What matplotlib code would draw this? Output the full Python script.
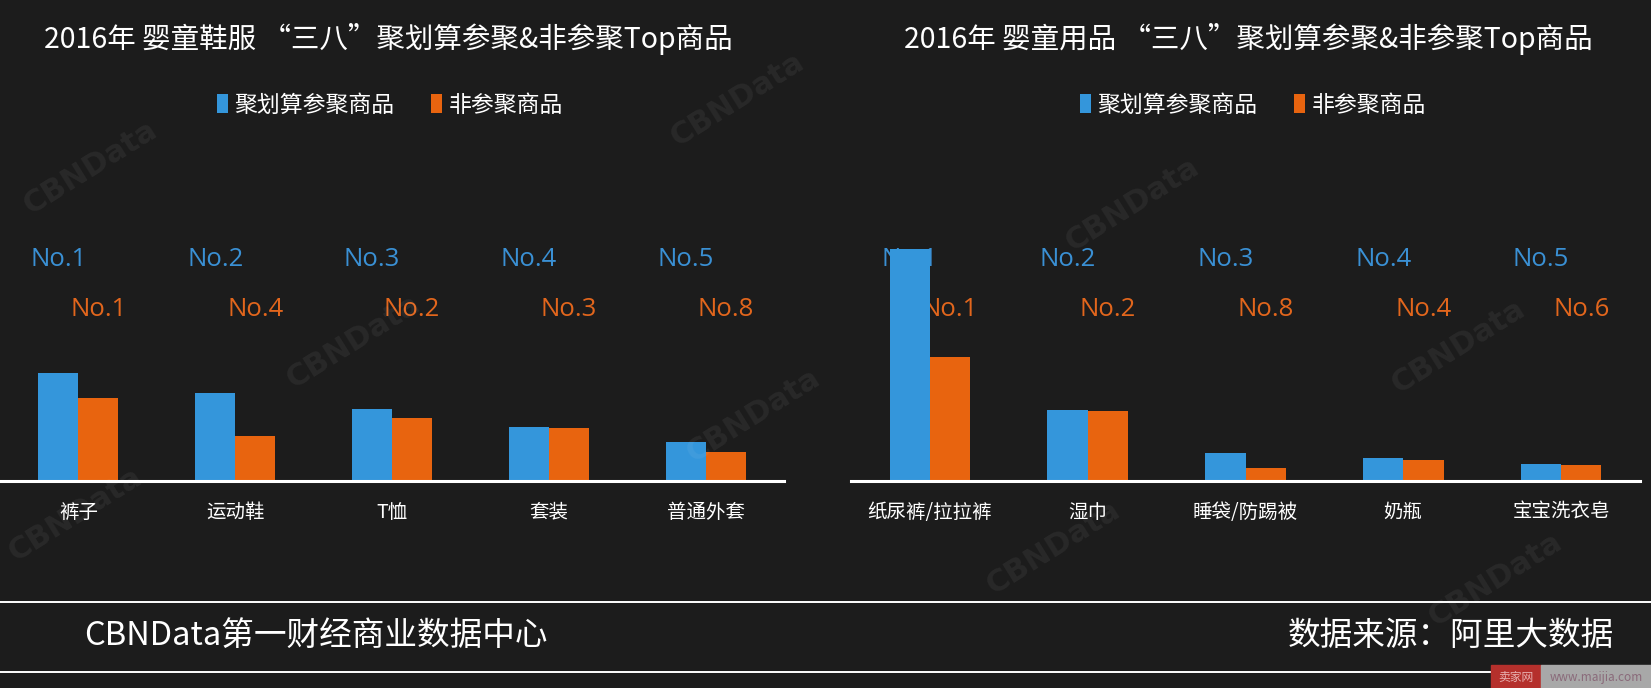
import matplotlib
matplotlib.use('Agg')
import matplotlib.pyplot as plt
from matplotlib.patches import Rectangle
from matplotlib.lines import Line2D

plt.rcParams['font.family'] = ['Noto Sans CJK SC', 'DejaVu Sans']

# data (bar heights, arbitrary units)
left_title = '2016年 婴童鞋服 “三八”聚划算参聚&非参聚Top商品'
left_cats = ['裤子', '运动鞋', 'T恤', '套装', '普通外套']
left_jhs = [108, 88, 72, 54, 39]
left_other = [83, 45, 63, 53, 29]
left_jhs_rank = ['No.1', 'No.2', 'No.3', 'No.4', 'No.5']
left_other_rank = ['No.1', 'No.4', 'No.2', 'No.3', 'No.8']

right_title = '2016年 婴童用品 “三八”聚划算参聚&非参聚Top商品'
right_cats = ['纸尿裤/拉拉裤', '湿巾', '睡袋/防踢被', '奶瓶', '宝宝洗衣皂']
right_jhs = [232, 71, 28, 23, 17]
right_other = [124, 70, 13, 21, 16]
right_jhs_rank = ['No.1', 'No.2', 'No.3', 'No.4', 'No.5']
right_other_rank = ['No.1', 'No.2', 'No.8', 'No.4', 'No.6']

series_names = ['聚划算参聚商品', '非参聚商品']

BG = '#1c1c1c'
BLUE = '#3496db'
ORANGE = '#e8640f'
BLUE_TXT = '#3a90d4'
ORANGE_TXT = '#e2661c'

W, H = 1651, 688
fig = plt.figure(figsize=(W / 100, H / 100), dpi=100, facecolor=BG)


def px(x0, y0, x1, y1):
    # pixel box (top-left origin) -> figure fraction rect
    return [x0 / W, 1 - y1 / H, (x1 - x0) / W, (y1 - y0) / H]


def draw_panel(rect, title, tx, cats, jhs, other, jhs_rank, other_rank, legx):
    ax = fig.add_axes(px(*rect))
    ax.set_facecolor('none')
    xs = list(range(len(cats)))
    w = 0.255
    b1 = ax.bar([x - w / 2 for x in xs], jhs, width=w, color=BLUE, zorder=3,
                label=series_names[0])
    b2 = ax.bar([x + w / 2 for x in xs], other, width=w, color=ORANGE, zorder=3,
                label=series_names[1])
    for x, r in zip(xs, jhs_rank):
        ax.text(x - w / 2, 221, r, color=BLUE_TXT, fontsize=18.5, ha='center',
                va='center', family=['Open Sans', 'DejaVu Sans'], zorder=1)
    for x, r in zip(xs, other_rank):
        ax.text(x + w / 2, 171, r, color=ORANGE_TXT, fontsize=18.5, ha='center',
                va='center', family=['Open Sans', 'DejaVu Sans'], zorder=1)
    ax.set_xlim(-0.5, len(cats) - 0.5)
    ax.set_ylim(0, 250)
    ax.set_yticks([])
    ax.set_xticks(xs)
    ax.set_xticklabels(cats, color='white', fontsize=14)
    ax.tick_params(axis='x', length=0, pad=15)
    for s in ['top', 'left', 'right']:
        ax.spines[s].set_visible(False)
    ax.spines['bottom'].set_color('white')
    ax.spines['bottom'].set_linewidth(2.2)
    ax.spines['bottom'].set_zorder(4)

    fig.text(tx / W, 1 - 39 / H, title, color='white', fontsize=20.5,
             ha='left', va='center')
    fig.legend(handles=[b1, b2], loc='center', bbox_to_anchor=(legx / W, 1 - 105 / H),
               ncol=2, frameon=False, fontsize=16.5, labelcolor='white',
               handlelength=0.45, handleheight=0.9, handletextpad=0.3,
               columnspacing=1.6)
    return ax


draw_panel((0, 231, 784, 481), left_title, 44, left_cats, left_jhs, left_other,
           left_jhs_rank, left_other_rank, 390)
draw_panel((851, 231, 1640, 481), right_title, 904, right_cats, right_jhs, right_other,
           right_jhs_rank, right_other_rank, 1253)

# faint CBNData watermarks, laid over everything like the original
for (wx, wy) in [(90, 168), (737, 100), (353, 342), (1132, 205), (1458, 347),
                 (753, 416), (1053, 548), (1495, 580), (75, 515)]:
    fig.text(wx / W, 1 - wy / H, 'CBNData', color='white', alpha=0.06, fontsize=22,
             fontweight='bold', family='DejaVu Sans', rotation=32,
             ha='center', va='center', zorder=10)

# footer
for yy in (602, 672):
    fig.add_artist(Line2D([0, 1], [1 - yy / H] * 2, color='white', lw=1.4,
                          transform=fig.transFigure))
fig.text(84 / W, 1 - 636 / H, 'CBNData第一财经商业数据中心', color='white',
         fontsize=23.5, ha='left', va='center')
fig.text(1614 / W, 1 - 636 / H, '数据来源：阿里大数据', color='white',
         fontsize=23.5, ha='right', va='center')

# maijia stamp
fig.add_artist(Rectangle((1491 / W, 0), 50 / W, 23 / H, color='#b5302c',
                         transform=fig.transFigure, zorder=5))
fig.add_artist(Rectangle((1541 / W, 0), 110 / W, 23 / H, color='#a8a8a8',
                         transform=fig.transFigure, zorder=5))
fig.text(1516 / W, 11 / H, '卖家网', color='#e8b0b0', fontsize=8.5,
         ha='center', va='center', zorder=6)
fig.text(1596 / W, 11 / H, 'www.maijia.com', color='#8a6a7a', fontsize=8.5,
         ha='center', va='center', zorder=6)

fig.savefig('out.png', dpi=100, facecolor=BG)
